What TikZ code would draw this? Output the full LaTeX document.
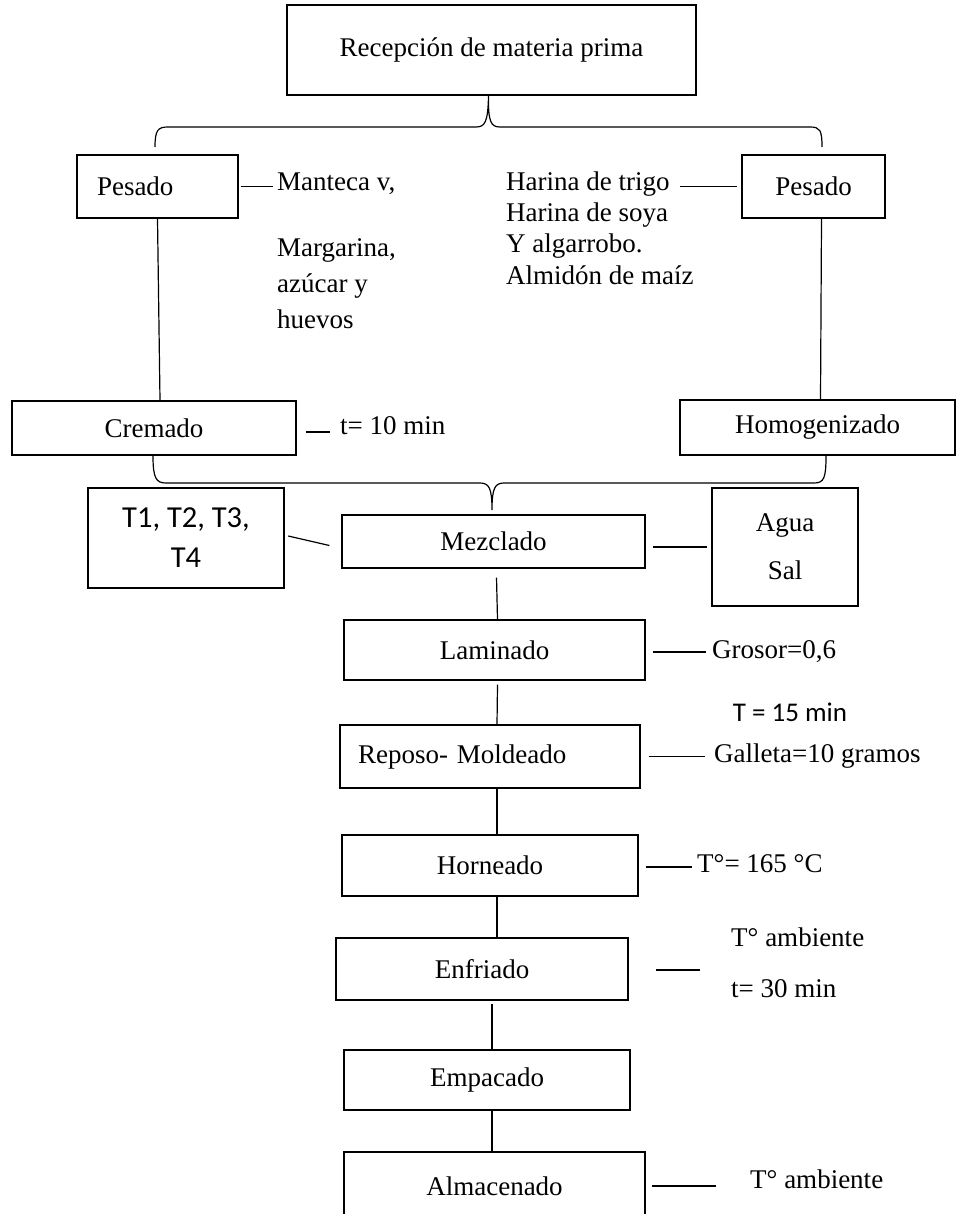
\documentclass[tikz,border=0pt]{standalone}
\usepackage{fontspec}
\setmainfont{Liberation Serif}
\newfontfamily\calibfont{Carlito}
\newcommand\mainsz{\fontsize{27}{32}\selectfont}
\begin{document}
\begin{tikzpicture}[x=1pt,y=-1pt,
  box/.style={draw, line width=1.2pt, inner sep=0pt, font=\mainsz, align=center},
  thickbox/.style={draw, line width=2.4pt, inner sep=0pt, align=center},
  txt/.style={inner sep=0pt, font=\mainsz, anchor=mid west},
  conn/.style={line width=1.2pt}]
\useasboundingbox (0,0) rectangle (965,1214);
\fill[white] (0,0) rectangle (965,1214);

% boxes
\node[box, minimum width=409pt, minimum height=90pt] (rec) at (491.5,50) {Recepción de materia prima};
\node[box, minimum width=161pt, minimum height=63pt, text width=121pt, inner xsep=20pt, align=left] (pl) at (157.5,186.5) {Pesado};
\node[box, minimum width=143pt, minimum height=63pt] (pr) at (813.5,186.5) {Pesado};
\node[box, minimum width=284pt, minimum height=54pt] (cre) at (154,428) {Cremado};
\node[box, minimum width=275pt, minimum height=55pt] (hom) at (817.5,427.5) {Homogenizado};
\node[thickbox, minimum width=196pt, minimum height=100pt, font=\calibfont\fontsize{30.5}{40}\selectfont] (t1) at (186,538) {T1, T2, T3,\\T4};
\node[box, minimum width=303pt, minimum height=53pt] (mez) at (493.5,541.5) {Mezclado};
\node[thickbox, minimum width=146pt, minimum height=118pt, font=\fontsize{27}{48}\selectfont] (agua) at (785,547) {Agua\\Sal};
\node[box, minimum width=301pt, minimum height=60pt] (lam) at (494.5,650) {Laminado};
\node[box, minimum width=300pt, minimum height=63pt, text width=264pt, inner xsep=18pt, align=left] (rep) at (490,756.5) {Reposo- Moldeado};
\node[box, minimum width=296pt, minimum height=61pt] (hor) at (490,865.5) {Horneado};
\node[box, minimum width=292pt, minimum height=62pt] (enf) at (482,969) {Enfriado};
\node[box, minimum width=286pt, minimum height=60pt] (emp) at (487,1080) {Empacado};
\node[box, minimum width=301pt, minimum height=68pt] (alm) at (494.5,1186) {Almacenado};

% side texts
\node[txt] (mant) at (277,188) {Manteca v,};
\node[txt] (marg) at (277,254) {Margarina,};
\node[txt] (azu) at (277,290) {azúcar y};
\node[txt] (huev) at (277,326) {huevos};
\node[txt] (har1) at (506,188) {Harina de trigo};
\node[txt] (har2) at (506,219) {Harina de soya};
\node[txt] (har3) at (506,250) {Y algarrobo.};
\node[txt] (har4) at (506,282) {Almidón de maíz};
\node[txt] (t10) at (340,432) {t= 10 min};
\node[txt] (gro) at (712,656) {Grosor=0,6};
\node[inner sep=0pt, font=\calibfont\fontsize{27}{32}\selectfont] (t15) at (790,712) {T = 15 min};
\node[txt] (gal) at (714,760) {Galleta=10 gramos};
\node[txt] (t165) at (697,870) {T°= 165 °C};
\node[txt] (tamb1) at (731,944) {T° ambiente};
\node[txt] (t30) at (731,995) {t= 30 min};
\node[txt] (tamb2) at (750,1186) {T° ambiente};

% braces
\coordinate (tbL) at (155,147);
\coordinate (tbR) at (822,147);
\draw[conn] (tbL) .. controls (155,130) and (158,127) .. (168,127) -- (476,127)
  .. controls (485,127) and (488,122) .. ([xshift=-3pt]rec.south)
  .. controls (488,122) and (491,127) .. (500,127) -- (810,127)
  .. controls (820,127) and (822,130) .. (tbR);
\coordinate (bbL) at (153,456);
\coordinate (bbR) at (826,456);
\coordinate (bbC) at (492,510);
\draw[conn] (bbL) .. controls (153,478) and (156,483) .. (166,483) -- (480,483)
  .. controls (489,483) and (492,488) .. (bbC)
  .. controls (492,488) and (495,483) .. (504,483) -- (814,483)
  .. controls (824,483) and (826,478) .. (bbR);

% connectors
\draw[conn] ([xshift=2pt]pl.east) -- ([xshift=-4pt]pl.east -| mant.west);
\draw[conn] ([xshift=10pt]pr.west -| har1.east) -- ([xshift=-4pt]pr.west);
\draw[conn] (pl.south) -- ([xshift=6pt]cre.north);
\draw[conn] ([xshift=8pt]pr.south) -- ([xshift=3pt]hom.north);
\draw[conn] ([xshift=9pt,yshift=-4pt]cre.east) -- ([xshift=-10pt,yshift=-4pt]cre.east -| t10.west);
\draw[conn] ([xshift=3pt,yshift=2pt]t1.east) -- ([xshift=-12pt,yshift=-4pt]mez.west);
\draw[conn] ([xshift=7pt]mez.east |- agua.west) -- ([xshift=-4pt]agua.west);
\draw[conn] ([xshift=3pt,yshift=-9pt]mez.south) -- ([xshift=3pt]lam.north);
\draw[conn] ([xshift=7pt,yshift=-2pt]lam.east) -- ([xshift=-6pt,yshift=-2pt]lam.east -| gro.west);
\draw[conn] ([xshift=3pt,yshift=-4pt]lam.south) -- ([xshift=7pt]rep.north);
\draw[conn] ([xshift=8pt]rep.east) -- ([xshift=-9pt]rep.east -| gal.west);
\draw[conn] ([xshift=7pt]rep.south) -- ([xshift=7pt]hor.north);
\draw[conn] ([xshift=7pt,yshift=-1.5pt]hor.east) -- ([xshift=-5pt,yshift=-1.5pt]hor.east -| t165.west);
\draw[conn] ([xshift=7pt]hor.south) -- ([xshift=15pt]enf.north);
\draw[conn] ([xshift=27pt,yshift=-1pt]enf.east) -- ([xshift=-31pt,yshift=-1pt]enf.east -| tamb1.west);
\draw[conn] ([xshift=10pt,yshift=-3pt]enf.south) -- ([xshift=5pt]emp.north);
\draw[conn] ([xshift=5pt]emp.south) -- ([xshift=-2.5pt]alm.north);
\draw[conn] ([xshift=6pt]alm.east) -- ([xshift=-34pt]alm.east -| tamb2.west);
\end{tikzpicture}
\end{document}
